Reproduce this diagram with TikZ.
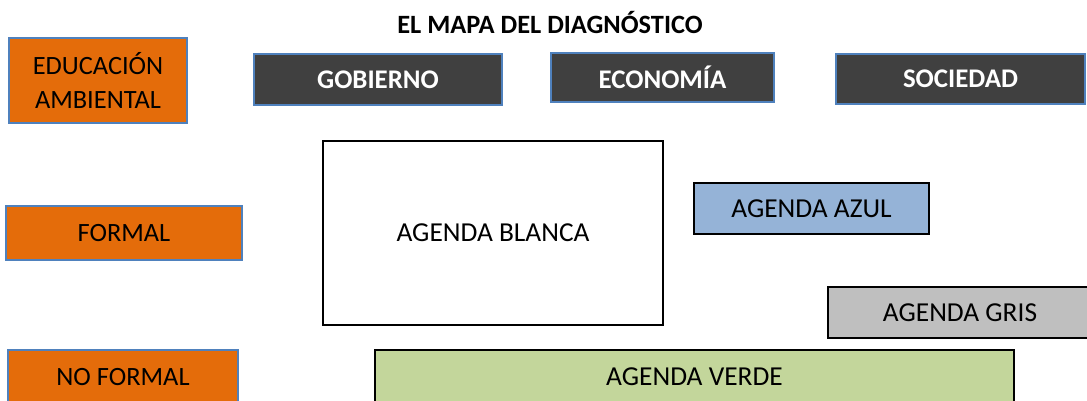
\documentclass[tikz,border=0pt]{standalone}
\usepackage{fontspec}
\setmainfont{Carlito}
\definecolor{naranja}{HTML}{E46C0A}
\definecolor{bordeazul}{HTML}{4F81BD}
\definecolor{oscuro}{HTML}{404040}
\definecolor{azul}{HTML}{95B3D7}
\definecolor{gris}{HTML}{BFBFBF}
\definecolor{verde}{HTML}{C3D69B}
\begin{document}
\begin{tikzpicture}[x=1bp,y=-1bp,
  eje/.style={draw=bordeazul,line width=2bp,fill=naranja,align=center,
    font=\fontsize{26.5}{34}\selectfont,inner sep=0pt},
  sector/.style={draw=bordeazul,line width=2.5bp,fill=oscuro,text=white,
    font=\fontsize{27}{32}\selectfont\bfseries,inner sep=0pt},
  agenda/.style={draw=black,line width=2.5bp,font=\fontsize{27.5}{32}\selectfont,inner sep=0pt}]
\useasboundingbox[fill=white] (0,0) rectangle (1087,400);

\node (titulo) at (550,22) {\fontsize{26.5}{30}\selectfont\bfseries EL MAPA DEL DIAGNÓSTICO};

% ejes
\node[eje,minimum width=178bp,minimum height=85bp] (educacion) at (98,80.5) {EDUCACIÓN\\AMBIENTAL};
\node[eje,minimum width=236bp,minimum height=54bp] (formal) at (124,233) {FORMAL};
\node[eje,minimum width=230bp,minimum height=54bp] (noformal) at (123,377) {NO FORMAL};

% sectores
\node[sector,minimum width=248bp,minimum height=51bp] (gobierno) at (378,79.5) {GOBIERNO};
\node[sector,minimum width=223bp,minimum height=49bp] (economia) at (662.5,77.5) {ECONOMÍA};
\node[sector,minimum width=249bp,minimum height=50bp] (sociedad) at (960.5,79) {SOCIEDAD};

% agendas
\node[agenda,fill=white,minimum width=340bp,minimum height=184bp] (blanca) at (493,233) {AGENDA BLANCA};
\node[agenda,fill=azul,line width=2bp,minimum width=235bp,minimum height=51bp] (azulag) at (811.5,208.5) {AGENDA AZUL};
\node[agenda,fill=gris,minimum width=264bp,minimum height=51bp] (grisag) at (960,312.5) {AGENDA GRIS};
\node[agenda,fill=verde,minimum width=639bp,minimum height=54bp] (verdeag) at (694.5,377) {AGENDA VERDE};
\end{tikzpicture}
\end{document}
